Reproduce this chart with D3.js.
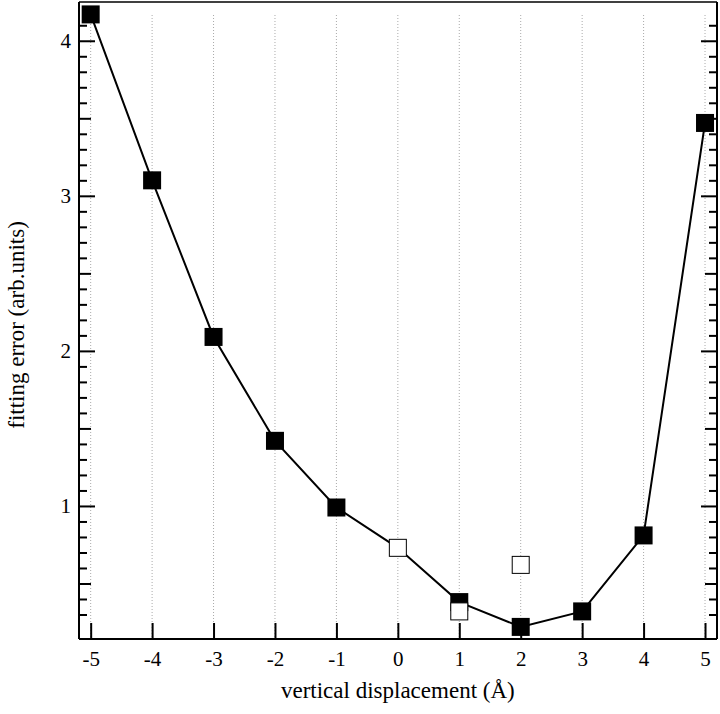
<!DOCTYPE html>
<html>
<head>
<meta charset="utf-8">
<script src="https://cdn.jsdelivr.net/npm/d3@7"></script>
<style>
  body { margin: 0; background: #fff; }
  svg { display: block; font-family: "Liberation Serif", "DejaVu Serif", serif; }
</style>
</head>
<body>
<div id="main"></div>
<script>
// displacement (Å) and fitting error
var displacement = [-5, -4, -3, -2, -1, 0, 1, 2, 3, 4, 5];
var lineError = [4.17, 3.10, 2.09, 1.42, 0.99, 0.73, 0.38, 0.22, 0.32, 0.81, 3.47];
// filled squares (all but 0)
var filledX = [-5, -4, -3, -2, -1, 1, 2, 3, 4, 5];
var filledY = [4.17, 3.10, 2.09, 1.42, 0.99, 0.38, 0.22, 0.32, 0.81, 3.47];
// open squares
var openX = [0, 1, 2];
var openY = [0.73, 0.32, 0.62];
var xTicks = [-5, -4, -3, -2, -1, 0, 1, 2, 3, 4, 5];
var yTicks = [1, 2, 3, 4];

var width = 720, height = 714;
// plot box (don't call it "top", that clashes with window.top)
var mLeft = 79, mRight = 717, mTop = 2, mBottom = 639;

var svg = d3.select('#main').append('svg')
  .attr('width', width)
  .attr('height', height);

var x = d3.scaleLinear().domain([-5.19, 5.195]).range([mLeft, mRight]);
var y = d3.scaleLinear().domain([0.142, 4.25]).range([mBottom, mTop]);

// plain hyphen for negatives, like the original
var fmt = function(d) { return String(d); };

// dotted vertical grid at each integer
svg.append('g').selectAll('line')
  .data(xTicks)
  .enter().append('line')
  .attr('x1', function(d) { return x(d); })
  .attr('x2', function(d) { return x(d); })
  .attr('y1', 15)
  .attr('y2', mBottom)
  .attr('stroke', '#aaa')
  .attr('stroke-width', 1)
  .attr('stroke-dasharray', '1,2');

// minor ticks every 0.1, medium at the halves
var minor = d3.range(3, 42).map(function(i) { return i / 10; })
  .filter(function(v) { return Math.round(v * 10) % 5 !== 0; });
var half = [0.5, 1.5, 2.5, 3.5];

function tickAxis(axisFn, values, size) {
  return axisFn(y).tickValues(values).tickSize(size).tickFormat('');
}

var leftG = svg.append('g').attr('transform', 'translate(' + mLeft + ',0)');
leftG.append('g').call(tickAxis(d3.axisLeft, minor, -8));
leftG.append('g').call(tickAxis(d3.axisLeft, half, -12));
leftG.append('g').call(d3.axisLeft(y).tickValues(yTicks).tickSize(-16).tickPadding(8).tickFormat(fmt));

var rightG = svg.append('g').attr('transform', 'translate(' + mRight + ',0)');
rightG.append('g').call(tickAxis(d3.axisRight, minor, -8));
rightG.append('g').call(tickAxis(d3.axisRight, half, -12));
rightG.append('g').call(tickAxis(d3.axisRight, yTicks, -16));

var bottomG = svg.append('g').attr('transform', 'translate(0,' + mBottom + ')');
bottomG.call(d3.axisBottom(x).tickValues(xTicks).tickSize(-16).tickPadding(12).tickFormat(fmt));

svg.selectAll('.domain').remove();
svg.selectAll('.tick line').attr('stroke', '#000').attr('stroke-width', 2);
svg.selectAll('.tick text')
  .attr('fill', '#000')
  .style('font-size', '21px')
  .style('font-family', '"Liberation Serif", serif');

// frame
svg.append('line').attr('x1', mLeft).attr('x2', mRight).attr('y1', mTop).attr('y2', mTop)
  .attr('stroke', '#000').attr('stroke-width', 1.5);
svg.append('line').attr('x1', mLeft).attr('x2', mRight).attr('y1', mBottom).attr('y2', mBottom)
  .attr('stroke', '#000').attr('stroke-width', 2);
svg.append('line').attr('x1', mLeft).attr('x2', mLeft).attr('y1', mTop).attr('y2', mBottom)
  .attr('stroke', '#000').attr('stroke-width', 2);
svg.append('line').attr('x1', mRight).attr('x2', mRight).attr('y1', mTop).attr('y2', mBottom)
  .attr('stroke', '#000').attr('stroke-width', 2);

// connecting line
var line = d3.line()
  .x(function(d, i) { return x(displacement[i]); })
  .y(function(d) { return y(d); });

svg.append('path')
  .datum(lineError)
  .attr('d', line)
  .attr('fill', 'none')
  .attr('stroke', '#000')
  .attr('stroke-width', 2);

var s = 18;
svg.append('g').selectAll('rect')
  .data(filledY)
  .enter().append('rect')
  .attr('x', function(d, i) { return x(filledX[i]) - s / 2; })
  .attr('y', function(d) { return y(d) - s / 2; })
  .attr('width', s)
  .attr('height', s)
  .attr('fill', '#000');

svg.append('g').selectAll('rect')
  .data(openY)
  .enter().append('rect')
  .attr('x', function(d, i) { return x(openX[i]) - (s - 1) / 2; })
  .attr('y', function(d) { return y(d) - (s - 1) / 2; })
  .attr('width', s - 1)
  .attr('height', s - 1)
  .attr('fill', '#fff')
  .attr('stroke', '#000')
  .attr('stroke-width', 1);

// axis titles
svg.append('text')
  .attr('x', x(0))
  .attr('y', 698)
  .attr('text-anchor', 'middle')
  .style('font-size', '23px')
  .text('vertical displacement (Å)');

svg.append('text')
  .attr('transform', 'translate(24,325) rotate(-90)')
  .attr('text-anchor', 'middle')
  .style('font-size', '23px')
  .text('fitting error (arb.units)');
</script>
</body>
</html>
